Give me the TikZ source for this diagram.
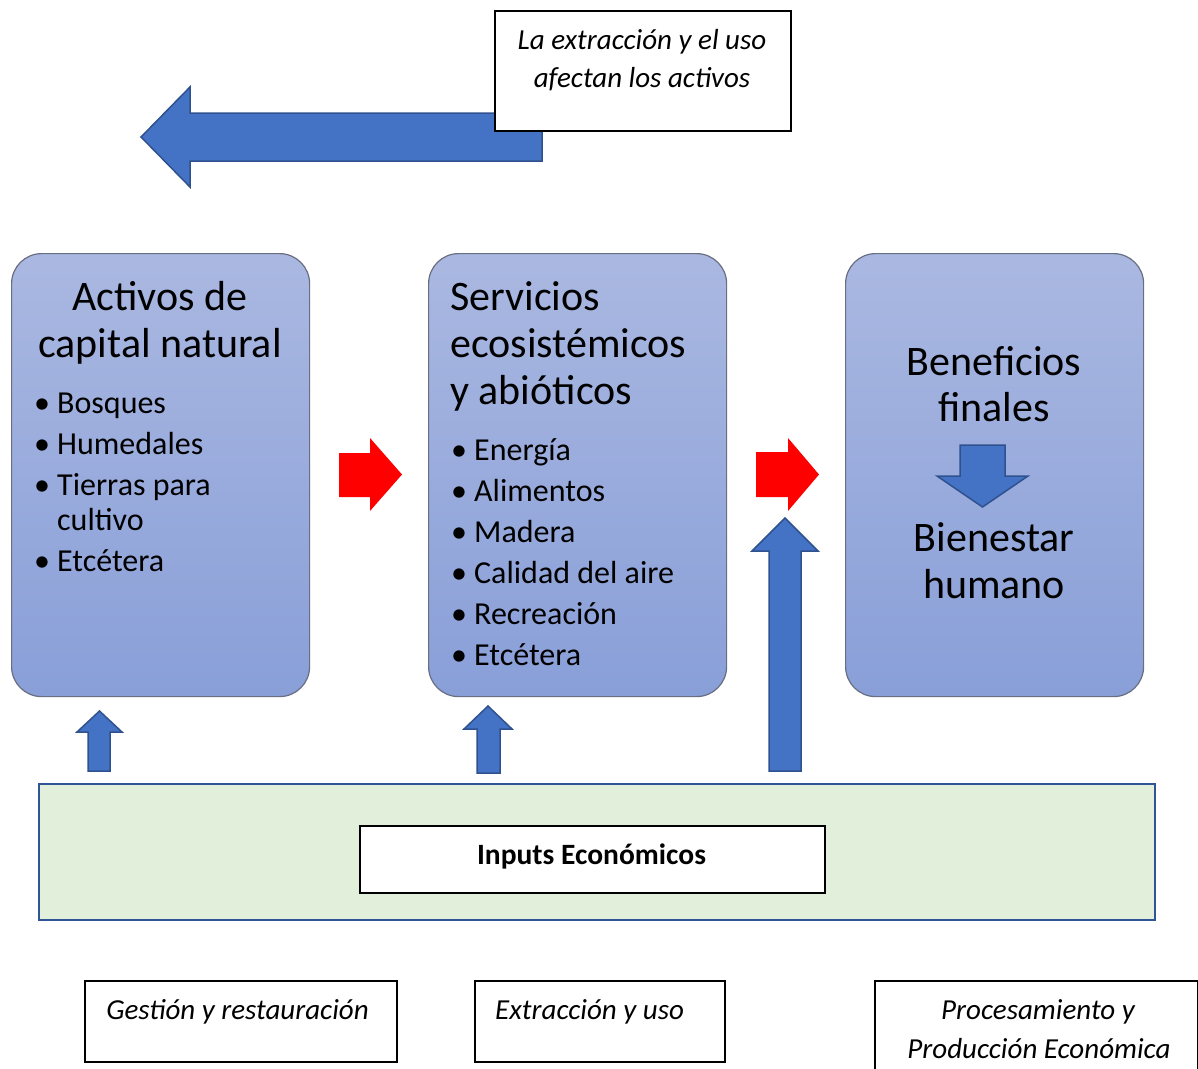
\documentclass[tikz,border=0pt]{standalone}
\usepackage{fontspec}
\setmainfont{Carlito}
\definecolor{panTop}{RGB}{170,184,225}
\definecolor{panBot}{RGB}{137,159,216}
\definecolor{panEdge}{RGB}{105,110,130}
\definecolor{arrBlue}{RGB}{68,114,196}
\definecolor{arrEdge}{RGB}{47,82,143}
\definecolor{greenF}{RGB}{226,239,218}
\definecolor{greenE}{RGB}{47,85,151}
\definecolor{redF}{RGB}{255,0,0}
\begin{document}
\begin{tikzpicture}[x=1pt,y=-1pt,
  panel/.style={rounded corners=30pt, top color=panTop, bottom color=panBot, draw=panEdge, line width=1.2pt, anchor=north west, inner sep=0pt},
  blk/.style={fill=arrBlue, draw=arrEdge, line width=1.5pt, line join=miter},
  redarr/.style={fill=redF, draw=none},
  wbox/.style={draw=black, fill=white, line width=1.5pt, anchor=north west, inner sep=0pt},
  ttl/.style={font=\fontsize{42}{47}\selectfont, inner sep=0pt},
  itm/.style={font=\fontsize{32}{38}\selectfont, inner sep=0pt, anchor=base west},
  note/.style={font=\fontsize{29}{33}\selectfont\itshape, inner sep=0pt, anchor=base},
]
\useasboundingbox (0,0) rectangle (1198,1068);

% top arrow and note
\draw[blk] (542,113) -- (190,113) -- (190,87) -- (141,137) -- (190,187) -- (190,161) -- (542,161) -- cycle;
\node[wbox, minimum width=296pt, minimum height=120pt] (topbox) at (494,10) {};
\node[note] (tn1) at (642,49) {La extracción y el uso};
\node[note] (tn2) at (642,87) {afectan los activos};

% panels
\node[panel, minimum width=298pt, minimum height=443pt] (p1) at (11,253) {};
\node[panel, minimum width=298pt, minimum height=443pt] (p2) at (428,253) {};
\node[panel, minimum width=298pt, minimum height=443pt] (p3) at (845,253) {};

% panel 1 text
\node[ttl, anchor=base] (t1a) at (160,310) {Activos de};
\node[ttl, anchor=base] (t1b) at (160,357) {capital natural};
\node[itm] (b1a) at (34,413) {\makebox[23pt][l]{•}Bosques};
\node[itm] (b1b) at (34,454) {\makebox[23pt][l]{•}Humedales};
\node[itm] (b1c) at (34,495) {\makebox[23pt][l]{•}Tierras para};
\node[itm] (b1d) at (57,530) {cultivo};
\node[itm] (b1e) at (34,571) {\makebox[23pt][l]{•}Etcétera};

% panel 2 text
\node[ttl, anchor=base west] (t2a) at (450,310) {Servicios};
\node[ttl, anchor=base west] (t2b) at (450,357) {ecosistémicos};
\node[ttl, anchor=base west] (t2c) at (450,404) {y abióticos};
\node[itm] (b2a) at (451,460) {\makebox[23pt][l]{•}Energía};
\node[itm] (b2b) at (451,501) {\makebox[23pt][l]{•}Alimentos};
\node[itm] (b2c) at (451,542) {\makebox[23pt][l]{•}Madera};
\node[itm] (b2d) at (451,583) {\makebox[23pt][l]{•}Calidad del aire};
\node[itm] (b2e) at (451,624) {\makebox[23pt][l]{•}Recreación};
\node[itm] (b2f) at (451,665) {\makebox[23pt][l]{•}Etcétera};

% panel 3 text
\node[ttl, anchor=base] (t3a) at (994,375) {Beneficios};
\node[ttl, anchor=base] (t3b) at (994,421) {finales};
\draw[blk] (960,445) -- (1005,445) -- (1005,476) -- (1028,476) -- (982.5,507) -- (937,476) -- (960,476) -- cycle;
\node[ttl, anchor=base] (t3c) at (994,551) {Bienestar};
\node[ttl, anchor=base] (t3d) at (994,598) {humano};

% red arrows
\fill[redarr] (339,453) -- (370,453) -- (370,438) -- (402,474.5) -- (370,511) -- (370,497) -- (339,497) -- cycle;
\fill[redarr] (756,452) -- (788,452) -- (788,438) -- (819,474.5) -- (788,511) -- (788,497) -- (756,497) -- cycle;

% up arrows
\draw[blk] (88,771) -- (88,732) -- (77,732) -- (99.5,711) -- (122,732) -- (110,732) -- (110,771) -- cycle;
\draw[blk] (477,773) -- (477,729) -- (464,729) -- (488,706) -- (512,729) -- (500,729) -- (500,773) -- cycle;
\draw[blk] (769,771) -- (769,551) -- (752,551) -- (785,518) -- (818,551) -- (801,551) -- (801,771) -- cycle;

% economic inputs band
\node[draw=greenE, fill=greenF, line width=2pt, anchor=north west, inner sep=0pt, minimum width=1116pt, minimum height=136pt] (band) at (38,783) {};
\node[wbox, minimum width=465pt, minimum height=67pt] (inbox) at (359,825) {};
\node[font=\fontsize{29.5}{33}\selectfont\bfseries, inner sep=0pt, anchor=base] (intxt) at (591.5,864) {Inputs Económicos};

% bottom labels
\node[wbox, minimum width=312pt, minimum height=81pt] (g1) at (84,980) {};
\node[note] (g1t) at (237.5,1019) {Gestión y restauración};
\node[wbox, minimum width=250pt, minimum height=81pt] (g2) at (474,980) {};
\node[note, anchor=base west] (g2t) at (495,1019) {Extracción y uso};
\node[wbox, minimum width=323pt, minimum height=100pt] (g3) at (874,980) {};
\node[note] (g3a) at (1038,1019) {Procesamiento y};
\node[note] (g3b) at (1039,1058) {Producción Económica};
\end{tikzpicture}
\end{document}
